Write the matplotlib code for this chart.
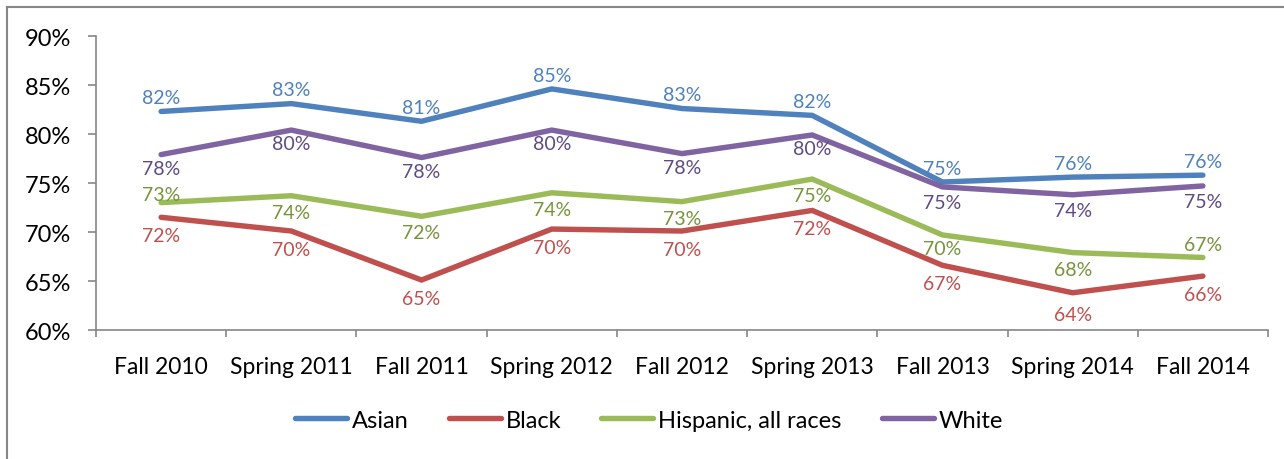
import matplotlib.pyplot as plt
from matplotlib.lines import Line2D
import numpy as np

plt.rcParams['font.family'] = ['Lato', 'DejaVu Sans']

terms = ['Fall 2010', 'Spring 2011', 'Fall 2011', 'Spring 2012', 'Fall 2012',
         'Spring 2013', 'Fall 2013', 'Spring 2014', 'Fall 2014']
asian = [82.3, 83.1, 81.3, 84.6, 82.6, 81.9, 75.1, 75.6, 75.8]
black = [71.5, 70.1, 65.1, 70.3, 70.1, 72.2, 66.6, 63.8, 65.5]
hispanic = [73.0, 73.7, 71.6, 74.0, 73.1, 75.4, 69.7, 67.9, 67.4]
white = [77.9, 80.4, 77.6, 80.4, 78.0, 79.9, 74.6, 73.8, 74.7]

# (name, values, line colour, label colour, label offsets in points)
series = [
    ('Asian', asian, '#4F81BD', '#4F81BD', [10] * 9),
    ('Black', black, '#C0504D', '#C0504D', [-13, -13, -13, -13, -13, -13, -13, -16, -13]),
    ('Hispanic, all races', hispanic, '#9BBB59', '#77933C', [6, -12, -12, -12, -12, -12, -10, -12, 9]),
    ('White', white, '#8064A2', '#5F4A85', [-10, -10, -10, -10, -10, -10, -11, -11, -11]),
]

fig = plt.figure(figsize=(12.84, 4.60), dpi=100)
W, H = 1284, 460
ax = fig.add_axes([96 / W, 1 - 331 / H, (1268 - 96) / W, (331 - 37) / H])

x = np.arange(len(terms))
for name, vals, col, lcol, offs in series:
    ax.plot(x, vals, color=col, lw=3.9, label=name, solid_capstyle='round', solid_joinstyle='miter')
    for xi, v, o in zip(x, vals, offs):
        ax.annotate(f'{round(v):.0f}%', (xi, v), xytext=(0, o), textcoords='offset points',
                    ha='center', va='center', fontsize=14, color=lcol)

ax.set_xlim(-0.5, len(terms) - 0.5)
ax.set_ylim(60, 90)
ax.set_yticks(np.arange(60, 91, 5))
ax.set_yticklabels([f'{t}%' for t in range(60, 91, 5)])
ax.set_xticks(x)
ax.set_xticklabels(terms)
ax.set_xticks(np.arange(-0.5, len(terms), 1), minor=True)

for s in ['top', 'right']:
    ax.spines[s].set_visible(False)
for s in ['left', 'bottom']:
    ax.spines[s].set_color('#868686')
    ax.spines[s].set_linewidth(1.2)

ax.tick_params(axis='y', length=6, width=1.2, color='#868686', pad=12, labelsize=17)
ax.tick_params(axis='x', which='major', length=0, pad=19, labelsize=16.5)
ax.tick_params(axis='x', which='minor', length=5, width=1.2, color='#868686')

fig.legend(loc='center', bbox_to_anchor=(649 / W, 1 - 421 / H), ncol=4, frameon=False,
           fontsize=17, handlelength=2.2, handletextpad=0.2, columnspacing=1.7)

# outer chart border (left and top edges only visible)
fig.add_artist(Line2D([6.5 / W, 6.5 / W], [0, 1 - 8 / H], color='#868686', lw=1.5))
fig.add_artist(Line2D([6.5 / W, 1], [1 - 8 / H, 1 - 8 / H], color='#868686', lw=1.5))

fig.savefig('out.png', dpi=100)
